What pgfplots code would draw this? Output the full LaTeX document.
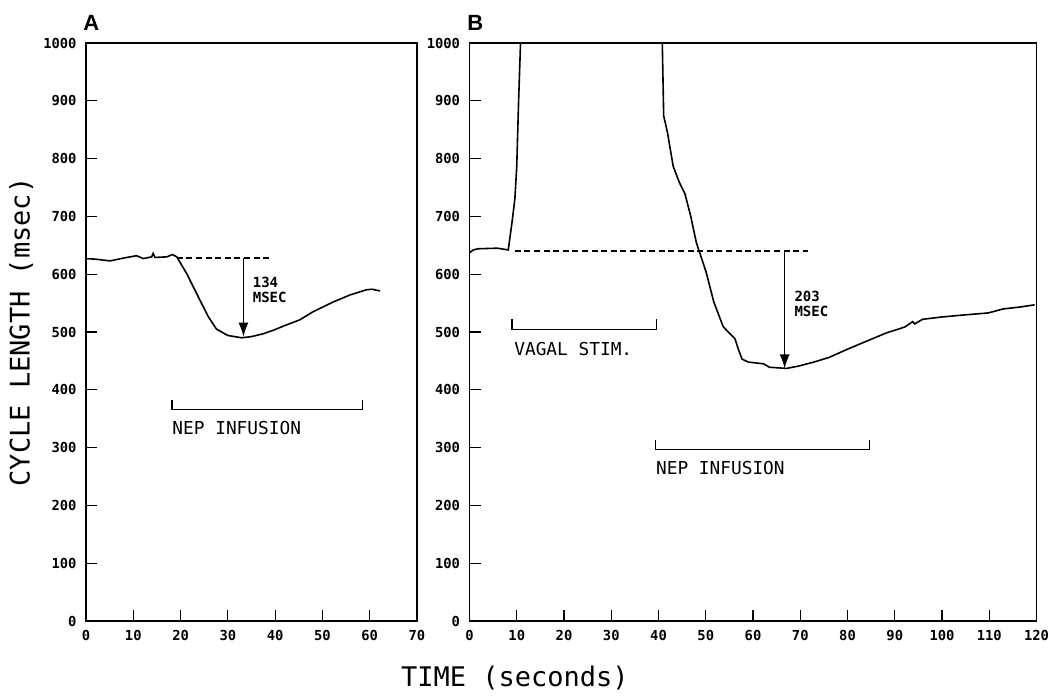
\documentclass[border=0pt]{standalone}
\usepackage{pgfplots}
\pgfplotsset{compat=1.18}
\usepackage{fontspec}
\setmainfont{Liberation Sans}
\newfontfamily\tickfont{DejaVu Sans Mono}[Numbers=SlashedZero]
\newfontfamily\plotfont{DejaVu Sans Mono}
\usetikzlibrary{arrows.meta}
\pgfplotsset{
  panel/.style={
    scale only axis, height=289pt,
    ymin=0, ymax=1000, ytick={0,100,...,1000},
    xtick pos=lower, ytick pos=left,
    tick align=inside, major tick length=5.5pt,
    tick style={black, line width=0.6pt},
    axis line style={black, line width=0.6pt},
    /pgf/number format/assume math mode=true,
    /pgf/number format/1000 sep={},
    ticklabel style={font=\tickfont\bfseries\fontsize{6.9}{7}\selectfont},
    yticklabel style={xshift=-1.2pt},
    xticklabel style={yshift=-1pt},
    clip=true,
  },
  curve/.style={black, line width=0.8pt, no markers},
  ann/.style={black, line width=0.6pt, no markers},
  dash/.style={black, line width=0.6pt, no markers, dash pattern=on 3pt off 1.8pt},
  arr/.style={black, line width=0.6pt, no markers, -{Latex[length=7pt,width=5pt]}},
}
\begin{document}
\begin{tikzpicture}
\useasboundingbox (0,0) rectangle (524.5pt,348.5pt);
% Panel A
\begin{axis}[panel, width=165.5pt, at={(43pt,38pt)}, anchor=south west,
  xmin=0, xmax=70, xtick={0,10,...,70},
  ylabel={CYCLE LENGTH (msec)},
  ylabel style={at={(axis description cs:-0.196,0.5)}, anchor=center,
    font=\plotfont\fontsize{13.5}{14}\selectfont}]
\addplot[curve] coordinates {
(0,627) (2,626) (5.1,623) (8,628) (10.7,632) (12.1,627) (13.9,630) (14.2,636)
(14.6,629) (17.1,630) (18.3,634) (19.2,630) (21.3,601) (24.1,555) (25.9,526)
(27.6,505) (30,494) (32.9,490) (35,492) (37.5,497) (39.6,503) (42,511)
(45.2,521) (48,535) (52.3,552) (55.8,564) (59.3,573) (60.5,574) (62.2,571)};
\addplot[dash] coordinates {(19.2,628) (38.8,628)};
\addplot[arr] coordinates {(33.3,628) (33.3,492)};
\addplot[ann] coordinates {(18.2,382) (18.2,366) (58.5,366) (58.5,382)};
\node[anchor=north west, inner sep=0, align=left,
  font=\tickfont\bfseries\fontsize{7}{7.6}\selectfont] at (axis cs:35.2,596) {134\\MSEC};
\node[anchor=base west, inner sep=0, font=\plotfont\fontsize{8.9}{9}\selectfont]
  at (axis cs:18.2,323) {NEP INFUSION};
\end{axis}
\node[anchor=base west, inner sep=0, font=\bfseries\fontsize{11}{12}\selectfont]
  at (41.5pt,333pt) {A};
% Panel B
\begin{axis}[panel, width=283.5pt, at={(234.75pt,38pt)}, anchor=south west,
  xmin=0, xmax=120, xtick={0,10,...,120},
  xlabel={TIME (seconds)},
  xlabel style={at={(axis description cs:0.08,-0.099)}, anchor=center,
    font=\plotfont\fontsize{13.5}{14}\selectfont}]
\addplot[curve] coordinates {
(0,637) (0.8,642) (1.8,644) (5.9,645) (8.2,642) (9.0,690) (9.6,730) (10.0,787)
(10.4,902) (10.8,1000)};
\addplot[curve] coordinates {
(40.8,1000) (41.1,874) (41.9,845) (43.1,787) (44.4,759) (45.6,739) (46.8,701)
(48.0,655) (50.1,603) (51.7,552) (53.7,509) (56.2,488) (56.9,470) (57.7,453)
(59.0,448) (62.2,445) (63.5,439) (67.1,437) (69.6,441) (72.9,448) (76.1,456)
(80.2,471) (84.3,485) (88.4,499) (90.8,505) (92.2,509) (93.8,518) (94.2,514)
(95.9,522) (100,526) (104,529) (109.8,533) (113,540) (116.3,543) (119.6,547)};
\addplot[dash] coordinates {(9.6,640) (71.7,640)};
\addplot[arr] coordinates {(66.7,640) (66.7,437)};
\addplot[ann] coordinates {(9,523) (9,505) (39.5,505) (39.5,523)};
\addplot[ann] coordinates {(39.4,314) (39.4,297) (84.7,297) (84.7,314)};
\node[anchor=north west, inner sep=0, align=left,
  font=\tickfont\bfseries\fontsize{7}{7.6}\selectfont] at (axis cs:68.7,572) {203\\MSEC};
\node[anchor=base west, inner sep=0, font=\plotfont\fontsize{8.9}{9}\selectfont]
  at (axis cs:9.4,459) {VAGAL STIM.};
\node[anchor=base west, inner sep=0, font=\plotfont\fontsize{8.9}{9}\selectfont]
  at (axis cs:39.4,254) {NEP INFUSION};
\end{axis}
\node[anchor=base west, inner sep=0, font=\bfseries\fontsize{11}{12}\selectfont]
  at (233.5pt,333pt) {B};
\end{tikzpicture}
\end{document}
